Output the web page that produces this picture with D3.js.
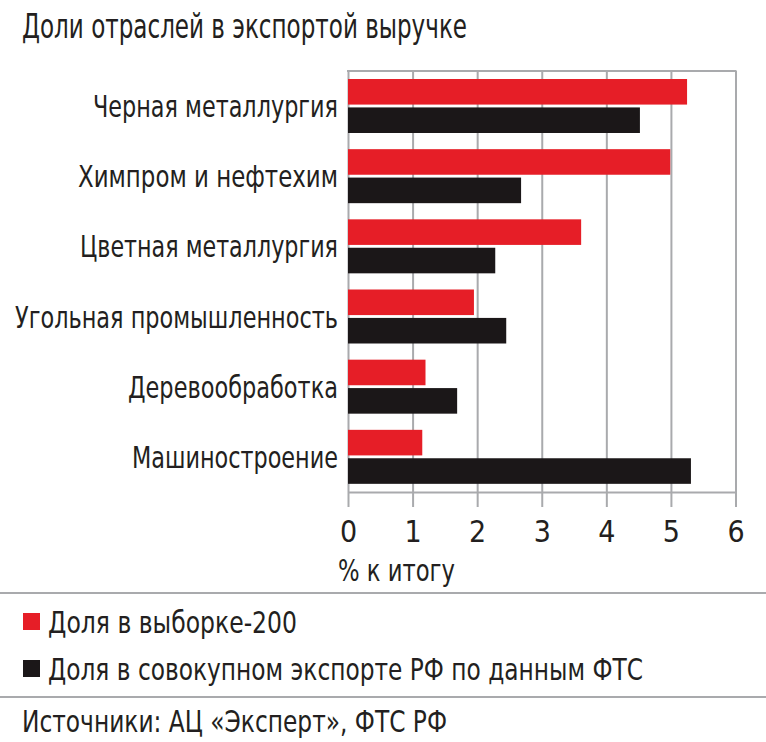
<!DOCTYPE html>
<html>
<head>
<meta charset="utf-8">
<script src="https://cdn.jsdelivr.net/npm/d3@7"></script>
<style>
  body { margin: 0; background: #fff; }
  svg { display: block; }
  text { font-family: "Liberation Sans Narrow", "DejaVu Sans Condensed", Roboto, sans-serif; fill: #231f20; }
</style>
</head>
<body>
<svg id="chart"></svg>
<script>
const categories = ["Черная металлургия", "Химпром и нефтехим", "Цветная металлургия",
    "Угольная промышленность", "Деревообработка", "Машиностроение"];
const seriesNames = ["Доля в выборке-200", "Доля в совокупном экспорте РФ по данным ФТС"];
const sample200 = [5.25, 4.99, 3.61, 1.95, 1.20, 1.15];
const ftsTotal = [4.52, 2.68, 2.28, 2.45, 1.69, 5.31];
const xTicks = [0, 1, 2, 3, 4, 5, 6];
const title = "Доли отраслей в экспортой выручке";
const xTitle = "% к итогу";
const source = "Источники: АЦ «Эксперт», ФТС РФ";

const colors = ["#e61e27", "#1b1718"];
const grey = "#a9aaad";
const width = 766;
const height = 742;
const plot = {left: 348, right: 735.5, top: 71, bottom: 492};

// widths the condensed face of the original gives each line of text
const textWidth = new Map([
    [title, 445], [xTitle, 117], [source, 425],
    [categories[0], 245], [categories[1], 260], [categories[2], 258],
    [categories[3], 323], [categories[4], 210], [categories[5], 206],
    [seriesNames[0], 249], [seriesNames[1], 595]
]);

const rows = categories.map((c, i) => ({name: c, values: [sample200[i], ftsTotal[i]]}));

const svg = d3.select("#chart")
    .attr("width", width)
    .attr("height", height)
    .attr("viewBox", [0, 0, width, height]);

svg.append("rect").attr("width", width).attr("height", height).attr("fill", "#fff");

const x = d3.scaleLinear().domain([0, 6]).range([plot.left, plot.right]);
const y = d3.scaleBand().domain(categories).range([plot.top, plot.bottom]);
const ySub = d3.scaleBand().domain([0, 1]).range([8, 62]).paddingInner(0.1);

const squeeze = sel => sel.each(function (d) {
    const t = d3.select(this).text();
    if (textWidth.has(t)) {
        d3.select(this).attr("textLength", textWidth.get(t)).attr("lengthAdjust", "spacingAndGlyphs");
    }
});

// vertical grid
svg.append("g")
    .attr("transform", `translate(0,${plot.bottom})`)
    .call(d3.axisBottom(x).tickValues(xTicks).tickSizeInner(-(plot.bottom - plot.top)).tickSizeOuter(0).tickFormat(""))
    .call(g => g.select(".domain").remove())
    .call(g => g.selectAll("line").attr("stroke", grey).attr("stroke-width", 2));

// top border
svg.append("line")
    .attr("x1", x(0) - 1).attr("x2", x(6) + 1)
    .attr("y1", plot.top).attr("y2", plot.top)
    .attr("stroke", grey).attr("stroke-width", 2);

// axis with labels
svg.append("g")
    .attr("transform", `translate(0,${plot.bottom})`)
    .call(d3.axisBottom(x).tickValues(xTicks).tickSizeInner(15).tickSizeOuter(0).tickPadding(14).tickFormat(d3.format("d")))
    .call(g => g.select(".domain").attr("stroke", grey).attr("stroke-width", 2))
    .call(g => g.selectAll(".tick line").attr("stroke", grey).attr("stroke-width", 2))
    .call(g => g.selectAll("text").attr("font-size", 30).attr("fill", "#231f20"))
    .attr("font-family", null);

// bars
svg.append("g")
    .selectAll("g")
    .data(rows)
    .join("g")
    .attr("transform", d => `translate(0,${y(d.name)})`)
    .selectAll("rect")
    .data(d => d.values)
    .join("rect")
    .attr("x", x(0))
    .attr("y", (d, i) => ySub(i))
    .attr("width", d => x(d) - x(0))
    .attr("height", ySub.bandwidth())
    .attr("fill", (d, i) => colors[i]);

// category labels
svg.append("g")
    .selectAll("text")
    .data(categories)
    .join("text")
    .attr("x", x(0) - 10)
    .attr("y", d => y(d) + y.bandwidth() / 2 + 11)
    .attr("text-anchor", "end")
    .attr("font-size", 30)
    .text(d => d)
    .call(squeeze);

svg.append("text")
    .attr("x", 22).attr("y", 38)
    .attr("font-size", 34)
    .text(title)
    .call(squeeze);

svg.append("text")
    .attr("x", 338).attr("y", 581)
    .attr("font-size", 30)
    .text(xTitle)
    .call(squeeze);

// separators
[593, 697].forEach(yy => svg.append("line")
    .attr("x1", 0).attr("x2", width)
    .attr("y1", yy).attr("y2", yy)
    .attr("stroke", grey).attr("stroke-width", 2));

// legend
const legend = svg.append("g")
    .selectAll("g")
    .data(seriesNames)
    .join("g")
    .attr("transform", (d, i) => `translate(23,${613 + i * 47})`);

legend.append("rect")
    .attr("width", 17).attr("height", 17)
    .attr("fill", (d, i) => colors[i]);

legend.append("text")
    .attr("x", 25).attr("y", 20)
    .attr("font-size", 30)
    .text(d => d)
    .call(squeeze);

svg.append("text")
    .attr("x", 22).attr("y", 732)
    .attr("font-size", 31)
    .text(source)
    .call(squeeze);
</script>
</body>
</html>
